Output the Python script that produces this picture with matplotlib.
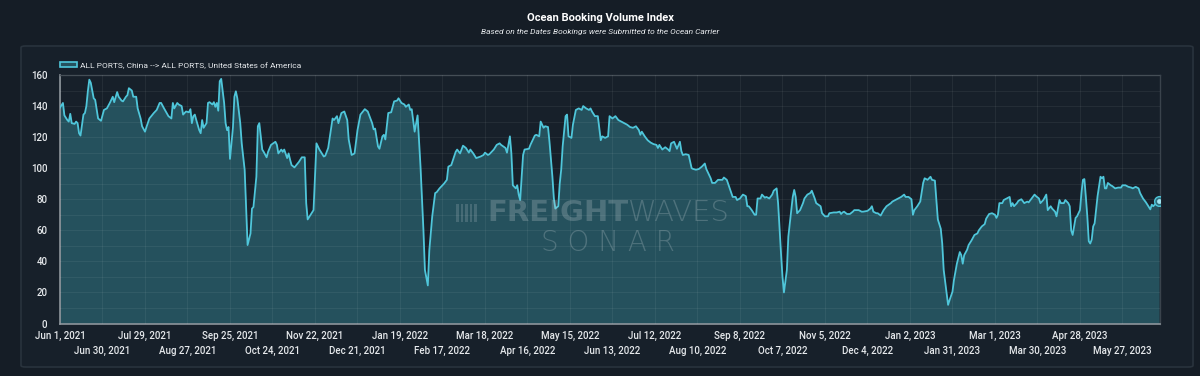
import pandas as pd
import matplotlib
matplotlib.use("Agg")
import matplotlib.pyplot as plt
from matplotlib.patches import FancyBboxPatch, Rectangle
from matplotlib.ticker import MultipleLocator, FixedLocator, FixedFormatter
import matplotlib.dates as mdates

FONT = ["Roboto", "DejaVu Sans"]
plt.rcParams["font.family"] = FONT

BG = "#151d26"
PANEL = "#17202a"
FILL = "#25515d"
LINE = "#4fc6da"
TXT = "#e6e9ec"

# ocean booking volume index (days since Jun 1, 2021)
START = pd.Timestamp("2021-06-01")
days = [0, 2, 3, 5, 6, 7, 8, 10, 11, 12, 13, 14, 16, 17, 18, 19, 20, 21, 23, 24,
        26, 28, 30, 32, 34, 36, 37, 39, 40, 42, 43, 45, 46, 47, 49, 50, 52, 53, 55, 56,
        58, 59, 61, 64, 66, 68, 69, 71, 74, 76, 77, 78, 80, 81, 83, 84, 86, 88, 89, 90,
        91, 92, 93, 95, 96, 97, 98, 100, 101, 102, 104, 105, 106, 107, 108, 109, 110, 112, 113, 114,
        115, 116, 118, 119, 120, 121, 123, 124, 126, 127, 128, 130, 131, 132, 134, 135, 136, 138, 139, 141,
        142, 144, 147, 148, 149, 151, 152, 153, 155, 156, 157, 158, 160, 163, 165, 167, 168, 169, 171, 173,
        175, 177, 180, 181, 183, 186, 187, 189, 190, 192, 194, 196, 197, 199, 201, 203, 205, 208, 210, 213,
        214, 215, 217, 218, 220, 221, 222, 224, 226, 228, 230, 231, 233, 235, 236, 238, 239, 240, 242, 244,
        246, 248, 249, 251, 252, 254, 256, 257, 259, 262, 264, 265, 267, 270, 271, 273, 275, 277, 279, 280,
        282, 284, 287, 289, 290, 292, 293, 296, 298, 300, 301, 304, 305, 307, 308, 309, 311, 312, 313, 314,
        316, 317, 320, 321, 324, 325, 327, 328, 330, 331, 333, 334, 336, 337, 338, 340, 341, 342, 343, 345,
        346, 347, 349, 350, 352, 354, 356, 357, 359, 361, 362, 363, 365, 367, 369, 370, 372, 374, 375, 377,
        379, 381, 384, 387, 389, 391, 393, 395, 396, 397, 399, 401, 403, 405, 407, 408, 409, 411, 413, 415,
        416, 417, 419, 421, 423, 424, 425, 427, 429, 431, 432, 434, 436, 438, 440, 441, 444, 445, 447, 449,
        452, 453, 455, 457, 459, 461, 462, 464, 466, 468, 469, 470, 472, 474, 475, 476, 478, 479, 481, 482,
        484, 486, 487, 489, 490, 492, 493, 494, 496, 497, 499, 500, 501, 502, 503, 505, 507, 508, 510, 512,
        513, 515, 516, 519, 520, 522, 524, 525, 528, 530, 532, 533, 534, 535, 537, 539, 541, 542, 545, 547,
        548, 551, 553, 554, 555, 557, 558, 560, 562, 564, 567, 568, 570, 572, 574, 576, 577, 579, 581, 582,
        583, 585, 587, 589, 590, 592, 594, 595, 597, 598, 599, 601, 602, 603, 605, 606, 607, 609, 610, 612,
        614, 615, 616, 617, 619, 620, 622, 624, 626, 627, 629, 631, 632, 634, 636, 638, 639, 640, 641, 643,
        644, 646, 648, 649, 650, 651, 653, 654, 656, 658, 660, 661, 663, 665, 666, 668, 669, 671, 673, 674,
        676, 677, 679, 680, 682, 683, 685, 686, 688, 689, 690, 691, 693, 694, 695, 696, 697, 698, 699, 700,
        701, 702, 703, 704, 705, 706, 708, 710, 711, 712, 713, 714, 715, 717, 718, 720, 722, 724, 725, 727,
        729, 731, 732, 734, 736, 737, 739, 741, 742, 744, 745, 746, 748, 750]
values = [139, 142, 134, 131, 130, 135, 129, 128.5, 130, 129, 122.5, 121, 134.5, 135.5, 140, 149.5, 157, 155, 145, 144,
          132, 130.5, 137.5, 138.5, 142, 146, 142.5, 149, 146, 143.5, 143, 146, 147, 151.5, 150, 146, 146, 138.5, 132, 127,
          123.5, 126.5, 132, 135.5, 137.5, 142, 142, 138.5, 133.5, 132, 142, 138.5, 142, 141, 140, 134.5, 136.5, 136, 138, 129,
          133.5, 134.5, 131, 124.5, 122.5, 131, 126, 129, 142, 142.5, 141, 142.5, 139.5, 142, 137, 156, 157.5, 142, 129, 124.5,
          126.5, 106, 126, 146, 149.5, 145, 129, 116, 99, 75, 50.5, 58, 74, 75, 94.5, 127, 129, 112, 110.5, 107,
          110.5, 115, 117, 115, 109.5, 112, 110.5, 112, 106.5, 109.5, 105.5, 102, 100.5, 104, 107, 107, 77.5, 67, 70, 73,
          116, 112, 107.5, 108, 113, 132, 131, 133.5, 129, 135.5, 136.5, 131, 118.5, 108.5, 109.5, 124.5, 134.5, 138, 136.5, 129,
          125, 125.5, 114, 112.5, 120.5, 121.5, 118.5, 135.5, 136, 143, 143.5, 145, 142, 141, 139.5, 141, 137.5, 138, 123.5, 134,
          101, 60, 34.5, 24.5, 47, 69, 84, 84.5, 87, 90, 92.5, 101, 102, 110.5, 112, 109.5, 114.5, 113, 110, 112,
          109.5, 106.5, 107.5, 108.5, 110, 108.5, 109, 112, 115, 116, 115, 113, 110, 120.5, 109.5, 89, 87, 89, 83, 79.5,
          108.5, 112, 112.5, 115, 121, 121.5, 120.5, 130, 126, 127, 126.5, 117, 94.5, 80.5, 74, 75.5, 90, 99, 114, 133.5,
          134.5, 120.5, 119.5, 128, 137.5, 138.5, 137.5, 140, 138.5, 137.5, 138.5, 136.5, 133.5, 133.5, 118, 120.5, 119.5, 120.5, 133.5, 132,
          133.5, 131, 129.5, 128, 126.5, 126, 127, 124.5, 121.5, 123.5, 120.5, 118, 116.5, 115.5, 115, 113, 115, 112, 113.5, 112,
          111, 116, 117, 112.5, 117, 111, 108.5, 109, 108.5, 100, 99.5, 99, 99.5, 101, 103, 99.5, 93.5, 90.5, 90.5, 92.5,
          92.5, 94, 92.5, 87, 81.5, 81.5, 79.5, 80.5, 83, 82, 75.5, 75.5, 73, 70, 70, 80.5, 80.5, 83, 81, 81.5,
          80.5, 83, 85.5, 87, 77.5, 45, 30, 20, 34.5, 56, 73, 81.5, 86, 81.5, 71, 73, 77.5, 80.5, 83, 84,
          85.5, 80.5, 77.5, 75.5, 71, 69, 69, 71, 71.5, 71.5, 72, 70.5, 71.5, 72, 70.5, 70.5, 72, 73, 73, 72,
          72, 72.5, 74, 75.5, 72, 71, 71, 69.5, 73, 75.5, 77.5, 78.5, 79.5, 80.5, 81.5, 83, 81.5, 81.5, 80, 70,
          73, 75.5, 78.5, 90.5, 93.5, 92.5, 94.5, 92.5, 92, 79.5, 67, 61, 51.5, 34.5, 19.5, 12, 15, 20.5, 28, 38.5,
          46, 44, 38.5, 44, 47.5, 50.5, 53.5, 57, 58, 60, 62.5, 64, 67.5, 70.5, 71, 70, 68, 70, 77.5, 77.5,
          79.5, 80.5, 81.5, 75.5, 77.5, 75.5, 77.5, 79, 80, 77.5, 78.5, 78, 80.5, 83, 82, 80.5, 77.5, 79.5, 83, 73,
          75.5, 74, 72, 69, 79.5, 77.5, 77.5, 79.5, 77.5, 75.5, 60, 57, 68, 69, 71, 73, 84, 92.5, 93, 81.5,
          69, 53, 51.5, 54, 62.5, 64.5, 82, 94.5, 93.5, 94.5, 87, 87, 90.5, 89, 88.5, 87, 87.5, 87.5, 89, 89,
          88, 87.5, 87, 88, 87, 84, 80.5, 78, 76.5, 73.5, 76.5, 75.5, 77.5, 79]
dates = START + pd.to_timedelta(days, unit="D")

tick_dates = pd.date_range(START, periods=26, freq="29D")
tick_labels = [f"{d:%b} {d.day}, {d.year}" for d in tick_dates]

W, H = 1200, 376
fig = plt.figure(figsize=(W / 100, H / 100), dpi=100, facecolor=BG)

# outer card
fig.patches.append(FancyBboxPatch((21 / W, 1 - 367 / H), 1172 / W, 321 / H,
                                  boxstyle="round,pad=0,rounding_size=0.004",
                                  transform=fig.transFigure, facecolor=PANEL,
                                  edgecolor="#29333d", linewidth=1.2, zorder=-5))

ax = fig.add_axes([60 / W, 1 - 323.5 / H, 1100 / W, 248.5 / H])
ax.set_facecolor(PANEL)

ax.fill_between(dates, values, 0, color=FILL, linewidth=0, zorder=1)
ax.plot(dates, values, color=LINE, linewidth=1.3, zorder=3)
ax.plot(dates[-1:], values[-1:], "o", ms=7, mfc="#2f6f7e", mec=LINE, mew=1, zorder=4)
ax.plot(dates[-1:], values[-1:], "o", ms=3.5, mfc="#9fe3ef", mec="none", zorder=5)

ax.set_xlim(START, START + pd.Timedelta(days=750.6))
ax.set_ylim(0, 160)

# two rows of date labels: even ticks on the first row, odd ticks below
tick_num = mdates.date2num(tick_dates)
ax.xaxis.set_major_locator(FixedLocator(tick_num[0::2]))
ax.xaxis.set_major_formatter(FixedFormatter(tick_labels[0::2]))
ax.xaxis.set_minor_locator(FixedLocator(tick_num[1::2]))
ax.xaxis.set_minor_formatter(FixedFormatter(tick_labels[1::2]))
ax.tick_params(axis="x", which="major", length=0, colors=TXT, labelsize=7, pad=5)
ax.tick_params(axis="x", which="minor", length=0, colors=TXT, labelsize=7, pad=16)

ax.yaxis.set_major_locator(MultipleLocator(20))
ax.yaxis.set_minor_locator(MultipleLocator(10))
ax.tick_params(axis="y", which="major", length=0, colors=TXT, labelsize=7, pad=9)
ax.tick_params(axis="y", which="minor", length=0)
for lab in ax.get_xticklabels(which="both") + ax.get_yticklabels():
    lab.set_fontweight("medium")

ax.grid(True, which="both", color="#ffffff", alpha=0.06, linewidth=0.8, zorder=2)
ax.set_axisbelow(False)
for s in ["top", "right"]:
    ax.spines[s].set_color("#3a434c")
    ax.spines[s].set_linewidth(1)
for s in ["left", "bottom"]:
    ax.spines[s].set_color("#8d959c")
    ax.spines[s].set_linewidth(1.2)

# legend
handle = Rectangle((0, 0), 1, 1, facecolor=FILL, edgecolor=LINE, linewidth=1.2)
leg = ax.legend([handle], ["ALL PORTS, China --> ALL PORTS, United States of America"],
                loc="lower left", bbox_to_anchor=(0, 1.025), frameon=False,
                handlelength=2.0, handleheight=0.5, handletextpad=0.4,
                borderaxespad=0, borderpad=0, fontsize=6)
for t in leg.get_texts():
    t.set_color(TXT)

fig.text(0.5, 1 - 18 / H, "Ocean Booking Volume Index", ha="center", va="center",
         color="#ffffff", fontsize=8, fontweight="bold")
fig.text(0.5, 1 - 32 / H, "Based on the Dates Bookings were Submitted to the Ocean Carrier",
         ha="center", va="center", color=TXT, fontsize=6, style="italic")

# watermark
wm = "#c9d3d8"
fig.text(628 / W, 1 - 213 / H, "FREIGHT", ha="right", va="center", color=wm, alpha=0.25,
         fontsize=21, fontweight="bold", family=["DejaVu Sans"])
fig.text(628 / W, 1 - 213 / H, "WAVES", ha="left", va="center", color=wm, alpha=0.25,
         fontsize=21, fontweight="light", family=["DejaVu Sans"])
fig.text(608 / W, 1 - 243 / H, "S O N A R", ha="center", va="center", color=wm, alpha=0.25,
         fontsize=20, fontweight="light", family=["DejaVu Sans"])
for i in range(5):
    fig.patches.append(Rectangle(((456 + i * 4.5) / W, 1 - 222 / H), 2.5 / W, 18 / H,
                                 transform=fig.transFigure, facecolor=wm, alpha=0.2,
                                 edgecolor="none", zorder=10))

fig.savefig("out.png", dpi=100, facecolor=BG)
